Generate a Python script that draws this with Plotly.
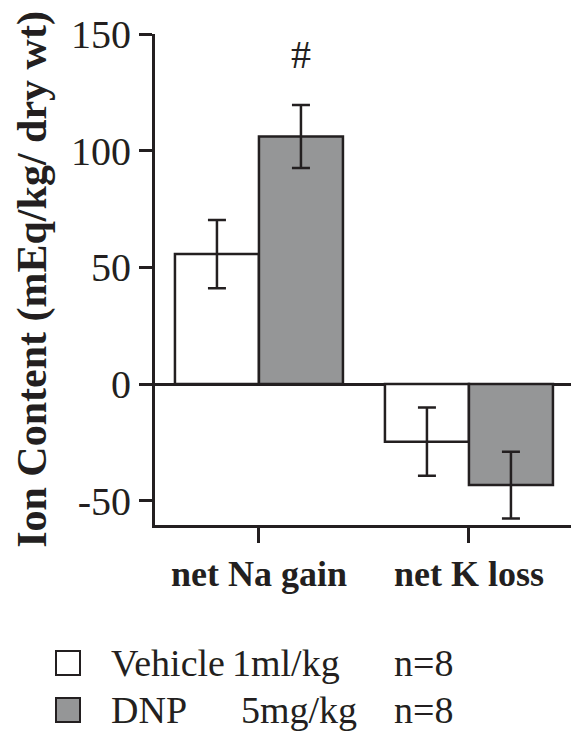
import plotly.graph_objects as go

# Ion content data (mEq/kg dry wt), mean ± SEM
categories = ["net Na gain", "net K loss"]
vehicle_mean = [55.7, -24.7]
vehicle_sem = [14.6, 14.6]
dnp_mean = [106.1, -43.3]
dnp_sem = [13.5, 14.3]

legend_rows = [
    ("Vehicle", "1ml/kg", "n=8"),
    ("DNP", "5mg/kg", "n=8"),
]

INK = "#231f20"
GRAY = "#959697"
WHITE = "#ffffff"
SERIF = "Liberation Serif, Times New Roman, serif"

W, H = 571, 732
M_L, M_T, M_B, M_R = 155, 34, 207, 0
PLOT_W = W - M_L - M_R
PLOT_H = H - M_T - M_B


def px_x(px):
    return (px - M_L) / PLOT_W


def px_y(py):
    return (H - M_B - py) / PLOT_H


fig = go.Figure()
for name, mean, sem, color in [
    ("Vehicle 1ml/kg", vehicle_mean, vehicle_sem, WHITE),
    ("DNP 5mg/kg", dnp_mean, dnp_sem, GRAY),
]:
    fig.add_trace(go.Bar(
        x=categories, y=mean, name=name,
        marker=dict(color=color, line=dict(color=INK, width=2.5)),
        error_y=dict(type="data", array=sem, visible=True,
                     color=INK, thickness=2.5, width=9),
        showlegend=False,
    ))

# significance marker above the DNP Na bar
fig.add_annotation(x=0.2, y=dnp_mean[0] + dnp_sem[0], xref="x", yref="y",
                   text="#", showarrow=False, yanchor="bottom", yshift=26,
                   font=dict(family=SERIF, size=40, color=INK))

# legend: swatches plus three aligned text columns per row
swatch_colors = [WHITE, GRAY]
row_centers = [663, 710]
row_cols = [[109, 230, 392], [109, 239, 392]]
for (label, dose, n), fill, cy, cols in zip(legend_rows, swatch_colors,
                                            row_centers, row_cols):
    fig.add_shape(type="rect", xref="paper", yref="paper",
                  x0=px_x(56), x1=px_x(80), y0=px_y(cy - 12), y1=px_y(cy + 12),
                  fillcolor=fill, line=dict(color=INK, width=2))
    for txt, cx in zip((label, dose, n), cols):
        fig.add_annotation(x=px_x(cx), y=px_y(cy), xref="paper", yref="paper",
                           text=txt, showarrow=False, xanchor="left",
                           yanchor="middle",
                           font=dict(family=SERIF, size=38, color=INK))

fig.update_layout(
    width=W, height=H,
    margin=dict(l=M_L, r=M_R, t=M_T, b=M_B, pad=0),
    paper_bgcolor="white", plot_bgcolor="white",
    barmode="group", bargap=0.2, bargroupgap=0,
    font=dict(family=SERIF, color=INK),
    xaxis=dict(
        range=[-0.495, 1.486],
        showline=True, linecolor=INK, linewidth=3,
        ticks="outside", ticklen=15, tickwidth=2.5, tickcolor=INK,
        tickfont=dict(family=SERIF, size=36, color=INK, weight="bold"),
        showgrid=False, zeroline=False,
    ),
    yaxis=dict(
        range=[-60.4, 150],
        tickvals=[-50, 0, 50, 100, 150],
        ticktext=["-50", "0", "50", "100", "150"],
        showline=True, linecolor=INK, linewidth=3,
        ticks="outside", ticklen=13, tickwidth=2.5, tickcolor=INK,
        tickfont=dict(family=SERIF, size=40, color=INK),
        showgrid=False,
        zeroline=True, zerolinecolor=INK, zerolinewidth=2.5,
        title=dict(text="Ion Content (mEq/kg/ dry wt)", standoff=12,
                   font=dict(family=SERIF, size=42, color=INK, weight="bold")),
    ),
)

fig.write_html("out.html")
